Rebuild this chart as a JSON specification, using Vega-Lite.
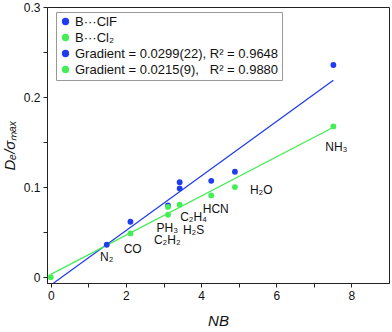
{
  "$schema": "https://vega.github.io/schema/vega-lite/v6.json",
  "width": 342,
  "height": 276,
  "autosize": {"type": "none"},
  "padding": {"left": 47, "top": 7, "right": 3, "bottom": 49},
  "background": "white",
  "config": {
    "font": "Liberation Sans",
    "view": {"stroke": "#222222", "strokeWidth": 1},
    "axis": {
      "grid": false,
      "domainColor": "#222222",
      "tickColor": "#222222",
      "tickSize": 4,
      "labelColor": "#111111",
      "labelFontSize": 12,
      "labelFont": "Liberation Sans",
      "titleFont": "Liberation Sans",
      "titleFontSize": 15,
      "titleFontWeight": "normal",
      "titleFontStyle": "italic",
      "titleColor": "#111111"
    }
  },
  "datasets": {
    "pts": [
      {"nb": 1.49, "de": 0.036, "series": "B···ClF"},
      {"nb": 2.12, "de": 0.0615, "series": "B···ClF"},
      {"nb": 3.12, "de": 0.0797, "series": "B···ClF"},
      {"nb": 3.43, "de": 0.1055, "series": "B···ClF"},
      {"nb": 3.43, "de": 0.0985, "series": "B···ClF"},
      {"nb": 4.27, "de": 0.107, "series": "B···ClF"},
      {"nb": 4.9, "de": 0.117, "series": "B···ClF"},
      {"nb": 7.52, "de": 0.2356, "series": "B···ClF"},
      {"nb": 0.0, "de": 0.0, "series": "B···Cl₂"},
      {"nb": 2.12, "de": 0.0486, "series": "B···Cl₂"},
      {"nb": 3.12, "de": 0.078, "series": "B···Cl₂"},
      {"nb": 3.12, "de": 0.0693, "series": "B···Cl₂"},
      {"nb": 3.43, "de": 0.0804, "series": "B···Cl₂"},
      {"nb": 4.27, "de": 0.0908, "series": "B···Cl₂"},
      {"nb": 4.9, "de": 0.1, "series": "B···Cl₂"},
      {"nb": 7.52, "de": 0.1674, "series": "B···Cl₂"}
    ],
    "fits": [
      {"nb": 0.07, "de": -0.0067, "series": "Gradient = 0.0299(22), R² = 0.9648"},
      {"nb": 7.52, "de": 0.2186, "series": "Gradient = 0.0299(22), R² = 0.9648"},
      {"nb": 0.0, "de": 0.003, "series": "Gradient = 0.0215(9),\u00a0\u00a0 R² = 0.9880"},
      {"nb": 7.52, "de": 0.1665, "series": "Gradient = 0.0215(9),\u00a0\u00a0 R² = 0.9880"}
    ],
    "labels": [
      {"nb": 1.49, "de": 0.0227, "label": "N₂"},
      {"nb": 2.18, "de": 0.031, "label": "CO"},
      {"nb": 3.1, "de": 0.055, "label": "PH₃"},
      {"nb": 3.1, "de": 0.041, "label": "C₂H₂"},
      {"nb": 3.8, "de": 0.067, "label": "C₂H₄"},
      {"nb": 3.8, "de": 0.052, "label": "H₂S"},
      {"nb": 4.39, "de": 0.076, "label": "HCN"},
      {"nb": 5.6, "de": 0.0967, "label": "H₂O"},
      {"nb": 7.6, "de": 0.1444, "label": "NH₃"}
    ]
  },
  "encoding": {
    "x": {
      "field": "nb", "type": "quantitative",
      "scale": {"domain": [-0.1, 9], "nice": false, "zero": false},
      "axis": {
        "title": "NB",
        "values": [0, 1, 2, 3, 4, 5, 6, 7, 8],
        "labelExpr": "datum.value % 2 == 0 ? datum.label : ''",
        "labelPadding": 3,
        "titlePadding": 12
      }
    },
    "y": {
      "field": "de", "type": "quantitative",
      "scale": {"domain": [-0.0065, 0.3], "nice": false, "zero": false},
      "axis": {
        "title": "Dₑ/σₘₐₓ",
        "values": [0, 0.05, 0.1, 0.15, 0.2, 0.25, 0.3],
        "labelExpr": "round(datum.value * 100) % 10 == 0 ? (datum.value == 0 ? '0' : format(datum.value, '.1f')) : ''",
        "labelPadding": 3,
        "titlePadding": 6
      }
    }
  },
  "layer": [
    {
      "data": {"name": "fits"},
      "mark": {"type": "line", "strokeWidth": 1.3, "clip": true},
      "encoding": {
        "color": {"field": "series", "type": "nominal"},
        "detail": {"field": "series"}
      }
    },
    {
      "data": {"name": "pts"},
      "mark": {"type": "point", "filled": true, "opacity": 1, "size": 34},
      "encoding": {
        "color": {
          "field": "series", "type": "nominal",
          "scale": {
            "domain": ["B···ClF", "B···Cl₂", "Gradient = 0.0299(22), R² = 0.9648", "Gradient = 0.0215(9),\u00a0\u00a0 R² = 0.9880"],
            "range": ["#1f3cf0", "#44ee55", "#1f3cf0", "#44ee55"]
          },
          "legend": {
            "title": null,
            "orient": "none",
            "legendX": 9,
            "legendY": 5,
            "strokeColor": "#999999",
            "fillColor": "white",
            "padding": 3,
            "labelFontSize": 13,
            "labelFont": "Liberation Sans",
            "labelColor": "#111111",
            "labelLimit": 400,
            "rowPadding": 2,
            "symbolSize": 34,
            "symbolOffset": 0,
            "labelOffset": 3
          }
        }
      }
    },
    {
      "data": {"name": "labels"},
      "mark": {"type": "text", "fontSize": 12, "font": "Liberation Sans", "color": "#111111", "align": "center", "baseline": "middle"},
      "encoding": {"text": {"field": "label"}}
    }
  ]
}
